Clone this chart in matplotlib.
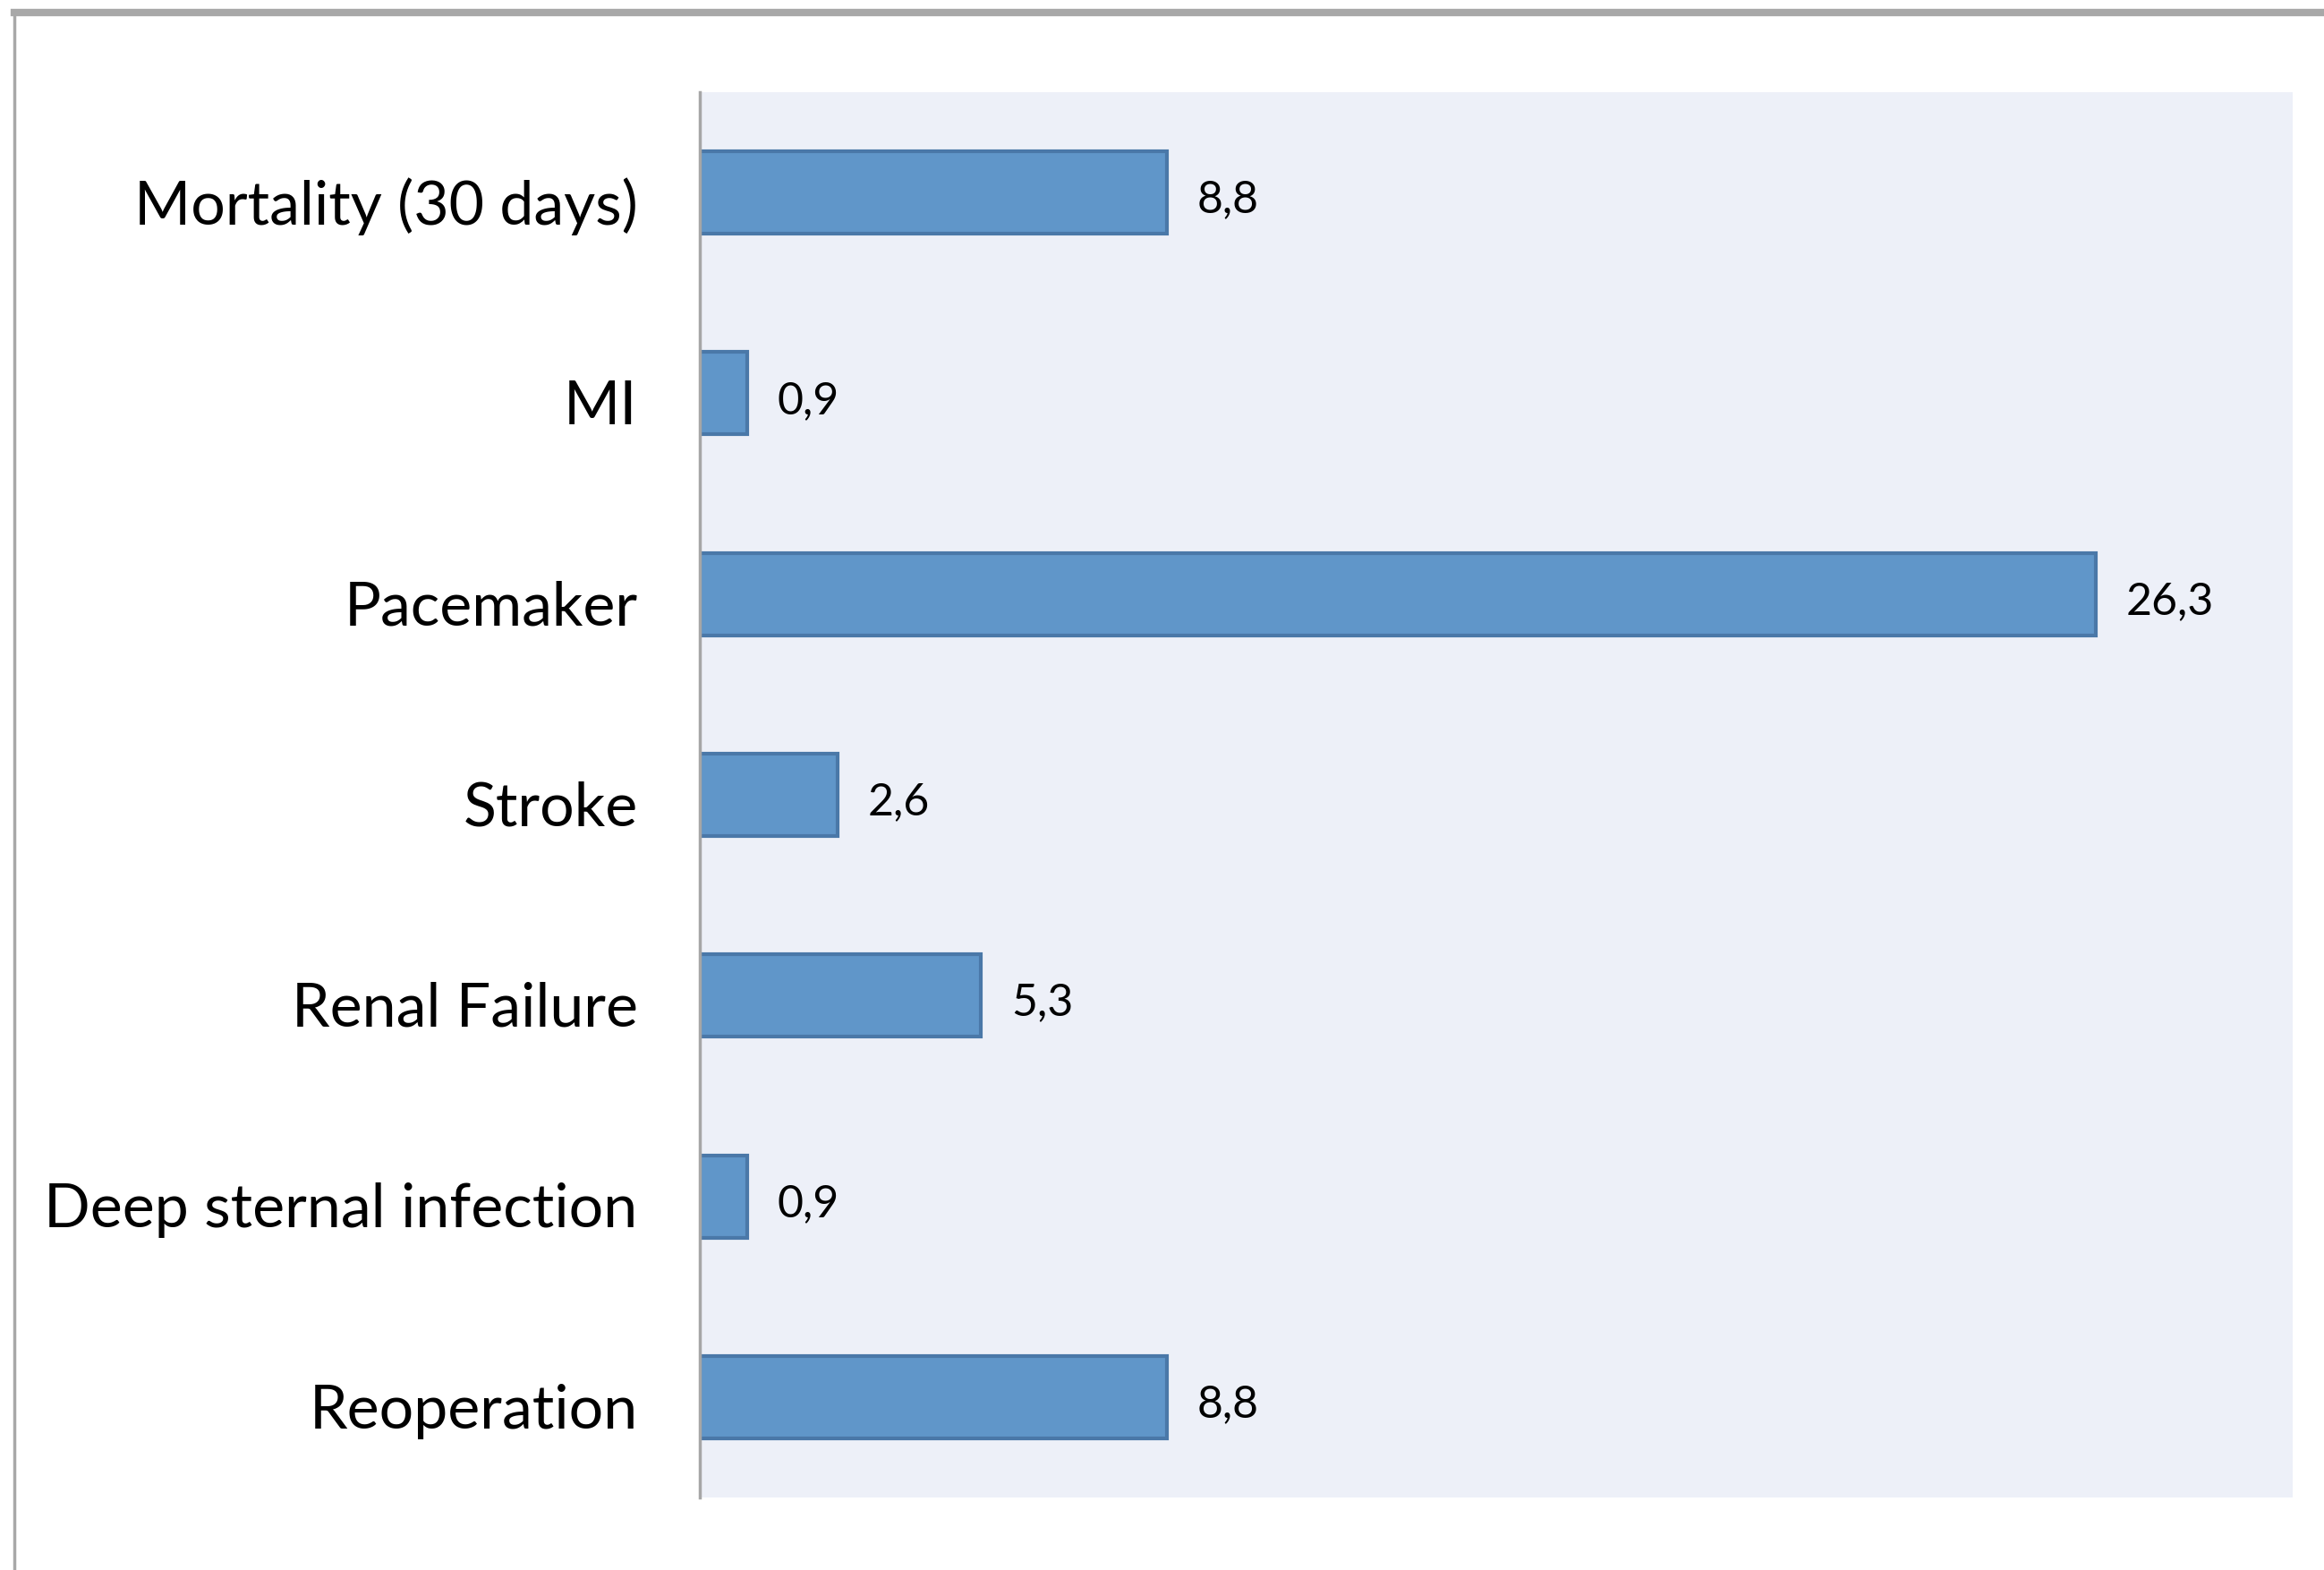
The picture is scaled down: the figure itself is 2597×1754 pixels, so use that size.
import matplotlib
matplotlib.use("Agg")
from matplotlib import pyplot as plt
from matplotlib.lines import Line2D
from matplotlib.transforms import ScaledTranslation

categories = [
    "Mortality (30 days)",
    "MI",
    "Pacemaker",
    "Stroke",
    "Renal Failure",
    "Deep sternal infection",
    "Reoperation",
]
values = [8.8, 0.9, 26.3, 2.6, 5.3, 0.9, 8.8]
value_labels = ["8,8", "0,9", "26,3", "2,6", "5,3", "0,9", "8,8"]

plt.rcParams["font.family"] = ["Lato", "DejaVu Sans"]

fig = plt.figure(figsize=(25.97, 17.54), dpi=100)
ax = fig.add_axes([0.3011, 0.0462, 0.6854, 0.8951])
ax.set_facecolor("#edf0f8")

ypos = list(range(len(categories)))
ax.barh(ypos, values, height=0.41, color="#6096c9", edgecolor="#4a78a8", linewidth=3)
for y, v, lab in zip(ypos, values, value_labels):
    ax.annotate(lab, (v, y), xytext=(24, -6), textcoords="offset points",
                va="center", ha="left", fontsize=36)

ax.set_xlim(0, 30)
ax.set_ylim(len(categories) - 0.5, -0.5)
ax.set_yticks(ypos)
ax.set_yticklabels(categories, fontsize=49)
ax.tick_params(axis="y", length=0, pad=50)
shift = ScaledTranslation(0, -7 / 72, fig.dpi_scale_trans)
for t in ax.get_yticklabels():
    t.set_transform(t.get_transform() + shift)
ax.set_xticks([])
for side in ["top", "right", "bottom"]:
    ax.spines[side].set_visible(False)
ax.spines["left"].set_color("#a6a6a6")
ax.spines["left"].set_linewidth(2.5)

# outer frame (top and left edges)
fig.add_artist(Line2D([16 / 2597, 1], [1 - 14 / 1754] * 2, transform=fig.transFigure,
                      color="#a8a8a8", linewidth=6))
fig.add_artist(Line2D([16 / 2597] * 2, [0, 1 - 14 / 1754], transform=fig.transFigure,
                      color="#a8a8a8", linewidth=2.5))

fig.savefig("out.png", dpi=100)
